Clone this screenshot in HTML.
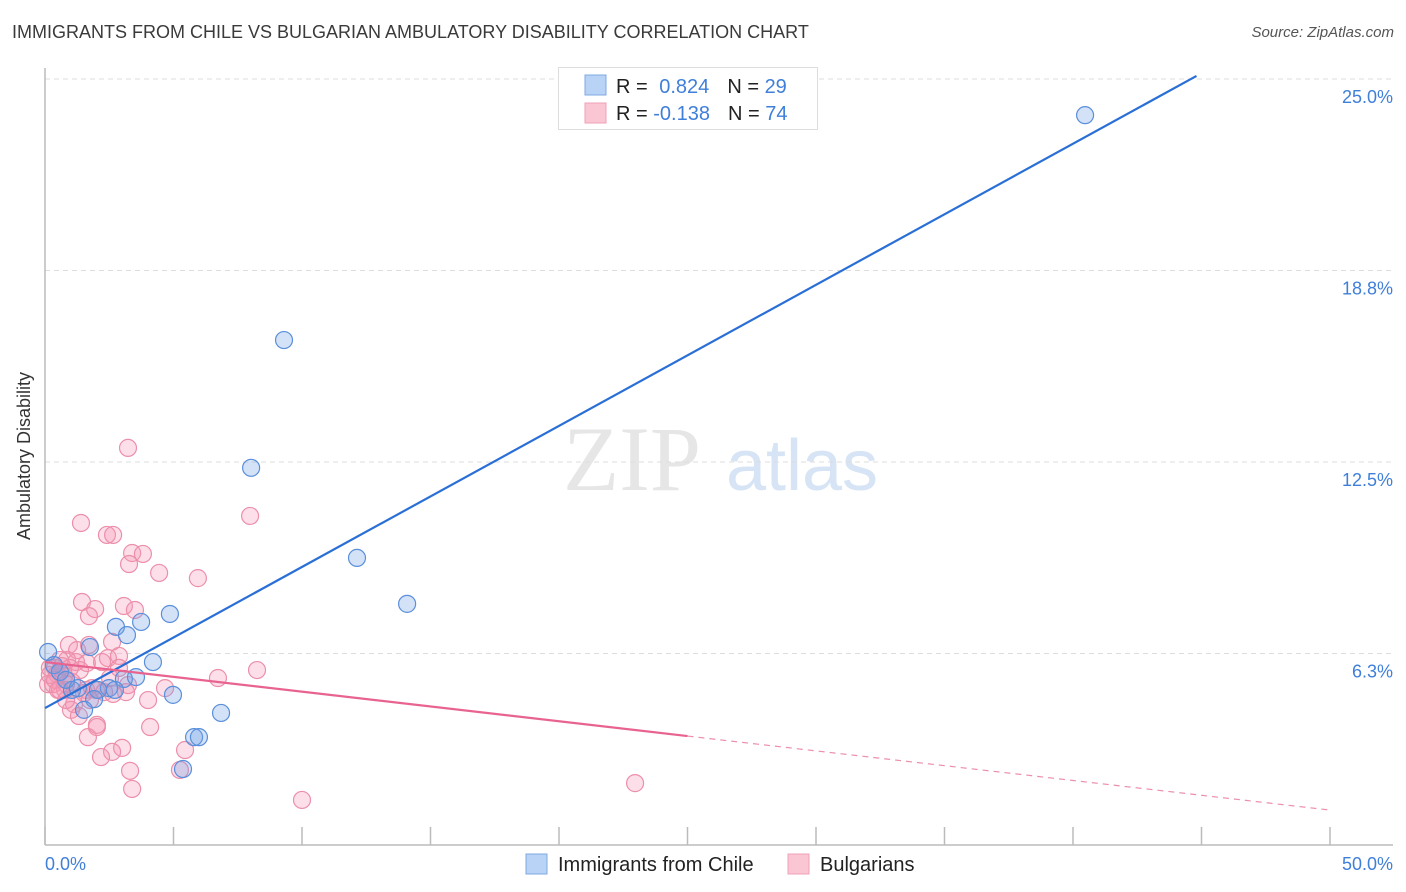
<!DOCTYPE html>
<html><head><meta charset="utf-8"><style>
body{margin:0;background:#fff;font-family:"Liberation Sans",sans-serif;}
#wrap{position:relative;width:1406px;height:892px;overflow:hidden;}
.t{position:absolute;white-space:nowrap;}
</style></head><body>
<div id="wrap">
<div class="t" style="left:12px;top:22px;font-size:18px;color:#3a3a3a;">IMMIGRANTS FROM CHILE VS BULGARIAN AMBULATORY DISABILITY CORRELATION CHART</div>
<div class="t" style="right:12px;top:24px;font-size:15px;color:#555;font-style:italic;">Source: ZipAtlas.com</div>
<svg id="svg" width="1406" height="892" style="position:absolute;left:0;top:0">
<text x="632" y="490" font-family="Liberation Serif" font-size="92" fill="#e6e6e6" text-anchor="middle">ZIP</text>
<text x="802" y="490" font-family="Liberation Sans" font-size="72" fill="#d6e4f5" text-anchor="middle">atlas</text>
<g id="grid"></g><g id="pts"></g><g id="lines"></g>
<text x="30" y="456" font-size="18" fill="#333" text-anchor="middle" transform="rotate(-90 30 456)">Ambulatory Disability</text>
<text x="45" y="870" font-size="18" fill="#3f7fd9">0.0%</text>
<text x="1393" y="870" font-size="18" fill="#3f7fd9" text-anchor="end">50.0%</text>
<g>
<rect x="558.5" y="67.5" width="259" height="62" fill="#fff" stroke="#ddd"/>
<rect x="585" y="75" width="21" height="20" fill="#b8d3f5" stroke="#7fa8e0"/>
<rect x="585" y="103" width="21" height="20" fill="#fbc6d4" stroke="#f0a0b8"/>
<text x="616" y="93" font-size="20" fill="#222">R = <tspan fill="#3f7fd9" dx="6">0.824</tspan><tspan dx="18" fill="#222">N = </tspan><tspan fill="#3f7fd9">29</tspan></text>
<text x="616" y="120" font-size="20" fill="#222">R = <tspan fill="#3f7fd9">-0.138</tspan><tspan dx="18" fill="#222">N = </tspan><tspan fill="#3f7fd9">74</tspan></text>
</g>
<g>
<rect x="526" y="854" width="21" height="20" fill="#b8d3f5" stroke="#7fa8e0"/>
<text x="558" y="871" font-size="20" fill="#222">Immigrants from Chile</text>
<rect x="788" y="854" width="21" height="20" fill="#fbc6d4" stroke="#f0a0b8"/>
<text x="820" y="871" font-size="20" fill="#222">Bulgarians</text>
</g>
</svg>
</div>
<script>
const yTicks=[25,18.75,12.5,6.25];
const yTickLabels=["25.0%","18.8%","12.5%","6.3%"];
const xTicks=[0,5,10,15,20,25,30,35,40,45,50];
const chileX=[40.47,9.30,8.02,12.14,14.09,4.86,3.74,2.76,3.19,1.75,4.20,0.12,2.49,3.07,3.54,2.06,1.05,1.91,4.98,1.52,6.85,5.80,5.99,5.37,0.35,0.58,0.82,1.28,2.72];
const chileY=[23.82,16.48,12.31,9.37,7.87,7.54,7.28,7.12,6.85,6.46,5.97,6.30,5.12,5.42,5.48,5.06,5.06,4.76,4.90,4.41,4.31,3.52,3.52,2.48,5.87,5.65,5.39,5.12,5.06];
const bulgX=[3.23,1.40,2.41,2.65,3.39,3.81,3.27,4.44,5.95,7.98,1.44,3.07,1.95,1.71,3.50,2.61,0.93,1.71,1.25,2.45,2.88,0.86,0.58,1.21,1.63,2.22,2.88,0.39,0.19,0.47,0.74,0.12,0.31,0.82,1.05,1.60,1.98,1.52,3.23,3.15,2.65,4.67,4.01,6.73,8.25,1.83,0.78,1.13,1.01,1.32,2.02,2.02,1.67,3.00,2.61,2.18,5.45,3.31,5.25,3.39,10.00,22.96,4.09,0.58,0.19,0.39,0.66,0.97,1.36,2.30,1.75,0.82,0.51,2.53];
const bulgY=[12.96,10.51,10.12,10.12,9.53,9.50,9.17,8.88,8.71,10.74,7.93,7.80,7.70,7.47,7.67,6.63,6.53,6.53,6.36,6.10,6.17,6.04,6.04,5.97,5.94,5.97,5.78,5.78,5.78,5.58,5.52,5.25,5.25,5.25,5.32,5.06,5.06,4.96,5.22,4.99,4.93,5.12,4.73,5.45,5.71,5.12,5.06,4.60,4.41,4.21,3.92,3.85,3.52,3.17,3.04,2.87,3.10,2.42,2.45,1.83,1.47,2.02,3.85,5.06,5.55,5.39,5.84,5.78,5.71,4.99,4.73,4.73,5.06,5.45];
const chileFit=[4.47,0.4582]; // intercept, slope
const bulgFit=[5.97,-0.0966];
const bulgSolidEnd=25;
const NS="http://www.w3.org/2000/svg";
const X=v=>45+v*25.7, Y=v=>845-v*30.64;
function mk(tag,attrs,parent){const e=document.createElementNS(NS,tag);for(const k in attrs)e.setAttribute(k,attrs[k]);parent.appendChild(e);return e;}
const grid=document.getElementById('grid'),pts=document.getElementById('pts'),lines=document.getElementById('lines'),svg=document.getElementById('svg');
let g=mk('line',{x1:45,x2:1393,y1:79,y2:79,stroke:'#ddd','stroke-dasharray':'5,4'},grid);


yTicks.forEach((t,i)=>{
 const l=mk('line',{x1:45,x2:1393,y1:Y(t),y2:Y(t),stroke:'#ddd','stroke-dasharray':'5,4'},grid);
 
 
 const tx=mk('text',{x:1393,y:Y(t)+24,'font-size':18,fill:'#3f7fd9','text-anchor':'end'},grid);
 tx.textContent=yTickLabels[i];
 
 
});
let ax=mk('line',{x1:45,x2:45,y1:68,y2:845,stroke:'#bbb','stroke-width':1.5},grid);


let bx=mk('line',{x1:45,x2:1393,y1:845,y2:845,stroke:'#bbb','stroke-width':1.5},grid);


xTicks.forEach(t=>{
 const l=mk('line',{x1:X(t),x2:X(t),y1:827,y2:845,stroke:'#bbb','stroke-width':1.5},grid);
 
 
});
bulgX.forEach((v,i)=>{
 const c=mk('circle',{cx:X(v),cy:Y(bulgY[i]),r:8.5,fill:'rgba(244,150,178,0.3)',stroke:'#ec8fab','stroke-width':1.2},pts);
 
 
});
chileX.forEach((v,i)=>{
 const c=mk('circle',{cx:X(v),cy:Y(chileY[i]),r:8.5,fill:'rgba(110,160,230,0.3)',stroke:'#5a8fdb','stroke-width':1.2},pts);
 
 
});
const cEnd=(25-chileFit[0])/chileFit[1];
let cl=mk('line',{x1:X(0),y1:Y(chileFit[0]),x2:X(cEnd),y2:Y(25.1),stroke:'#2a6fd6','stroke-width':2.2},lines);


let bl=mk('line',{x1:X(0),y1:Y(bulgFit[0]),x2:X(bulgSolidEnd),y2:Y(bulgFit[0]+bulgFit[1]*bulgSolidEnd),stroke:'#e8638f','stroke-width':2.2},lines);


let bd=mk('line',{x1:X(bulgSolidEnd),y1:Y(bulgFit[0]+bulgFit[1]*bulgSolidEnd),x2:X(50),y2:Y(bulgFit[0]+bulgFit[1]*50),stroke:'#ec8fab','stroke-width':1.2,'stroke-dasharray':'6,5'},lines);


</script>
</body></html>
